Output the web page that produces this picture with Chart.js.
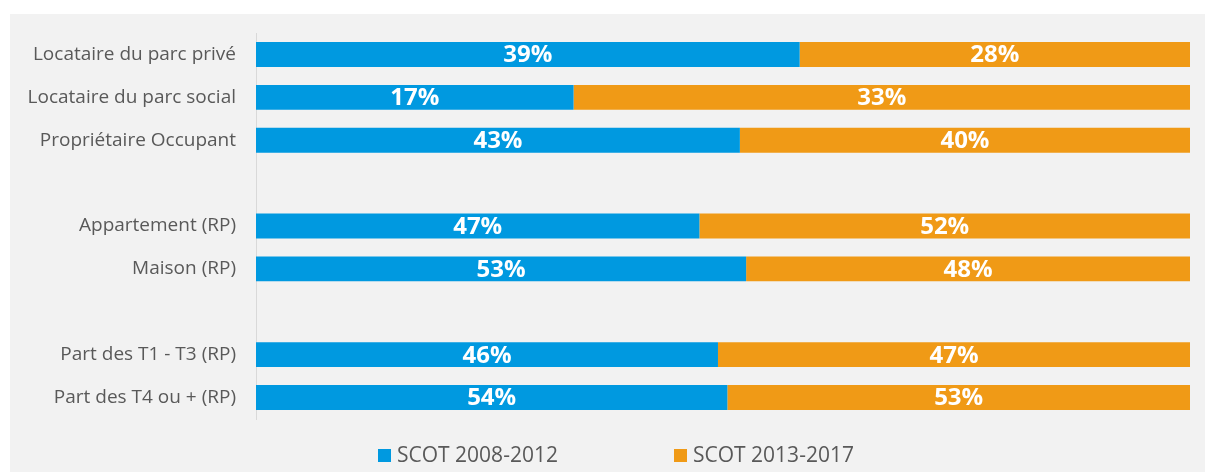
<!DOCTYPE html>
<html lang="fr">
<head>
<meta charset="utf-8">
<title>Statut d'occupation et typologie</title>
<script src="https://cdn.jsdelivr.net/npm/chart.js@4.4.1/dist/chart.umd.min.js"></script>
<style>
  html, body { margin: 0; padding: 0; background: #fff; overflow: hidden; }
  #panel {
    position: absolute; left: 10px; top: 14px; width: 1195px; height: 458px;
    background: #f2f2f2;
  }
  #wrap { position: absolute; left: 0; top: 0; width: 1205px; height: 472px; }
  #legend {
    position: absolute; top: 441px; left: 0; width: 1205px; height: 26px;
    font-family: "Open Sans", sans-serif; font-size: 21px; color: #595959;
  }
  .item { position: absolute; top: 0; white-space: nowrap; line-height: 26px; }
  .box { display: inline-block; width: 13px; height: 13px; margin-right: 6px; vertical-align: 0px; }
</style>
</head>
<body>
<div id="panel"></div>
<div id="wrap"><canvas id="chart"></canvas></div>
<div id="legend"></div>

<script>
// -----------------------------
// Data (empty labels = gaps between groups)
// -----------------------------
const categories = [
  "Locataire du parc privé",
  "Locataire du parc social",
  "Propriétaire Occupant",
  "",
  "Appartement (RP)",
  "Maison (RP)",
  "",
  "Part des T1 - T3 (RP)",
  "Part des T4 ou + (RP)",
];
const scot2008 = [39, 17, 43, null, 47, 53, null, 46, 54];
const scot2013 = [28, 33, 40, null, 52, 48, null, 47, 53];
const seriesNames = ["SCOT 2008-2012", "SCOT 2013-2017"];
const seriesColors = ["#0099e0", "#f09a16"];

// 100% stacked: each bar shows share of the row total
const share = (a, b) => a.map((v, i) => (v == null ? null : v / (v + b[i])));
const share2008 = share(scot2008, scot2013);
const share2013 = share(scot2013, scot2008);
const rawValues = [scot2008, scot2013];

// -----------------------------
// Value labels inside the bars
// -----------------------------
const valueLabels = {
  id: "valueLabels",
  afterDatasetsDraw(chart) {
    const ctx = chart.ctx;
    ctx.save();
    ctx.fillStyle = "#ffffff";
    ctx.font = "bold 24px 'Open Sans', sans-serif";
    ctx.textAlign = "center";
    ctx.textBaseline = "middle";
    chart.data.datasets.forEach((ds, d) => {
      chart.getDatasetMeta(d).data.forEach((bar, i) => {
        const v = rawValues[d][i];
        if (v == null) return;
        const p = bar.getProps(["x", "y", "base"], true);
        ctx.fillText(v + "%", (p.x + p.base) / 2, p.y + 1);
      });
    });
    ctx.restore();
  },
};

new Chart(document.getElementById("chart"), {
  type: "bar",
  data: {
    labels: categories,
    datasets: [
      {
        label: seriesNames[0],
        data: share2008,
        backgroundColor: seriesColors[0],
        barPercentage: 0.58,
        categoryPercentage: 1,
      },
      {
        label: seriesNames[1],
        data: share2013,
        backgroundColor: seriesColors[1],
        barPercentage: 0.58,
        categoryPercentage: 1,
      },
    ],
  },
  options: {
    indexAxis: "y",
    responsive: true,
    maintainAspectRatio: false,
    animation: false,
    layout: { padding: { top: 33, right: 15, bottom: 53, left: 0 } },
    plugins: { legend: { display: false }, tooltip: { enabled: false } },
    scales: {
      x: { stacked: true, min: 0, max: 1, display: false },
      y: {
        stacked: true,
        grid: { display: false, drawTicks: false },
        border: { display: true, color: "#d9d9d9", width: 1 },
        ticks: {
          color: "#595959",
          font: { family: "'Open Sans', sans-serif", size: 19 },
          padding: 20,
        },
        afterFit: (scale) => { scale.width = 256; },
      },
    },
  },
  plugins: [valueLabels],
});

// -----------------------------
// Legend (HTML)
// -----------------------------
const legendX = [378, 674];
document.getElementById("legend").innerHTML = seriesNames
  .map(
    (name, i) => `
    <span class="item" style="left:${legendX[i]}px">
      <span class="box" style="background:${seriesColors[i]}"></span>${name}
    </span>`
  )
  .join("");
</script>
</body>
</html>
